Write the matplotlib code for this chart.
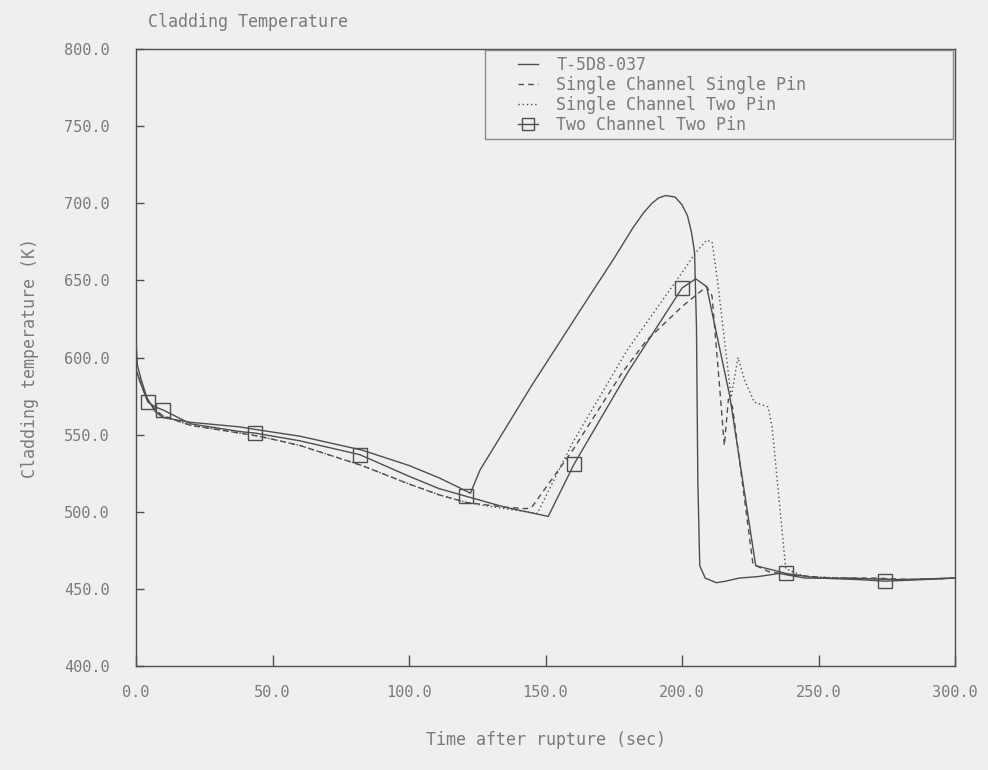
import matplotlib
matplotlib.use("Agg")
import matplotlib.pyplot as plt
from matplotlib.patches import Rectangle

# Measured cladding temperature, test T-5D8-037
t_exp = [0.0, 0.5, 2.0, 4.0, 7.0, 10.0, 20.0, 38.0, 45.0, 60.0, 82.7, 100.0, 111.0, 118.0, 122.5,
         126.0, 145.0, 162.5, 175.0, 182.0, 186.0, 189.0, 191.5, 194.0, 197.5, 200.0, 202.0, 203.5,
         204.6, 205.3, 205.8, 206.5, 208.5, 212.6, 216.0, 221.0, 228.0, 235.6, 245.0, 260.0, 280.0, 300.0]
T_exp = [611.0, 595.0, 585.0, 574.0, 565.0, 561.0, 558.0, 555.0, 553.0, 549.0, 540.0, 530.0, 522.0, 516.0, 512.0,
         527.0, 582.0, 630.0, 664.0, 684.0, 694.0, 700.0, 703.5, 705.0, 704.0, 699.0, 692.0, 681.0,
         668.0, 620.0, 520.0, 465.0, 457.0, 454.0, 455.0, 457.0, 458.0, 460.0, 457.0, 457.0, 456.0, 457.0]

# Single channel, single pin calculation
t_scsp = [0.0, 2.0, 4.0, 7.0, 10.0, 20.0, 38.0, 45.0, 60.0, 82.7, 100.0, 111.0, 121.0, 135.0, 143.0,
          145.0, 160.0, 178.0, 187.0, 200.0, 209.0, 211.0, 214.0, 215.5, 217.0, 218.5, 226.0,
          232.0, 240.0, 255.0, 270.0, 285.0, 300.0]
T_scsp = [592.0, 582.0, 573.0, 566.0, 562.0, 556.0, 551.0, 549.0, 543.0, 530.0, 518.0, 511.0, 506.0, 503.0, 502.0,
          503.0, 540.0, 590.0, 611.0, 633.0, 646.0, 640.0, 576.0, 543.0, 573.0, 568.0, 466.0,
          461.0, 459.0, 457.0, 457.0, 456.0, 457.0]

# Single channel, two pin calculation
t_sctp = [0.0, 2.0, 4.0, 7.0, 10.0, 20.0, 38.0, 45.0, 60.0, 82.7, 100.0, 111.0, 121.0, 135.0, 147.0,
          160.0, 180.0, 200.0, 205.0, 209.0, 211.0, 213.0, 218.0, 220.5, 223.0, 226.5, 231.5,
          233.0, 238.0, 245.0, 260.0, 280.0, 300.0]
T_sctp = [592.0, 582.0, 573.0, 566.0, 562.0, 556.0, 551.0, 549.0, 543.0, 530.0, 518.0, 511.0, 506.0, 502.0, 499.0,
          545.0, 605.0, 655.0, 668.0, 676.0, 675.0, 650.0, 574.0, 600.0, 585.0, 571.0, 568.0,
          555.0, 463.0, 458.0, 457.0, 456.0, 457.0]

# Two channel, two pin calculation (square markers on the points indexed by marks_tctp)
t_tctp = [0.0, 2.0, 4.4, 7.0, 9.9, 20.0, 38.0, 43.6, 60.0, 82.0, 100.0, 111.0, 121.0, 135.0, 151.0,
          160.5, 180.0, 200.0, 205.0, 209.0, 217.5, 227.0, 236.0, 238.0, 250.0, 265.0, 274.5, 288.0, 300.0]
T_tctp = [592.0, 582.0, 571.0, 568.0, 566.0, 557.0, 552.0, 551.0, 546.0, 537.0, 523.0, 515.0, 510.0, 503.0, 497.0,
          531.0, 590.0, 645.0, 651.0, 646.0, 575.0, 465.0, 461.0, 460.0, 457.0, 456.0, 455.0, 456.0, 457.0]
marks_tctp = [2, 4, 7, 9, 12, 15, 17, 23, 26]

series_labels = ["T-5D8-037", "Single Channel Single Pin", "Single Channel Two Pin", "Two Channel Two Pin"]
x_ticks = [0.0, 50.0, 100.0, 150.0, 200.0, 250.0, 300.0]
y_ticks = [400.0, 450.0, 500.0, 550.0, 600.0, 650.0, 700.0, 750.0, 800.0]

bg = "#efefef"
ink = "#4e4e4e"
txt = "#7a7a7a"
mono = ["DejaVu Sans Mono"]

W, H = 988, 770
ax_l, ax_r, ax_t, ax_b = 136, 955, 49, 666

fig = plt.figure(figsize=(W / 100, H / 100), dpi=100, facecolor=bg)
ax = fig.add_axes([ax_l / W, 1 - ax_b / H, (ax_r - ax_l) / W, (ax_b - ax_t) / H], facecolor=bg)

ax.plot(t_exp, T_exp, color=ink, lw=1.0, ls="-", label=series_labels[0])
ax.plot(t_scsp, T_scsp, color=ink, lw=1.0, ls=(0, (4, 3)), label=series_labels[1])
ax.plot(t_sctp, T_sctp, color=ink, lw=1.0, ls=(0, (1, 2)), label=series_labels[2])
ax.plot(t_tctp, T_tctp, color=ink, lw=1.0, ls="-", marker="s", markersize=10,
        markerfacecolor="none", markeredgecolor=ink, markeredgewidth=1.0,
        markevery=marks_tctp, label=series_labels[3])

ax.set_xlim(0, 300)
ax.set_ylim(400, 800)
ax.set_xticks(x_ticks)
ax.set_yticks(y_ticks)
ax.set_xticklabels([f"{v:.1f}" for v in x_ticks], family=mono, fontsize=11, color=txt)
ax.set_yticklabels([f"{v:.1f}" for v in y_ticks], family=mono, fontsize=11, color=txt)
ax.tick_params(axis="x", direction="in", length=8, width=1.0, color=ink, pad=14)
ax.tick_params(axis="y", direction="in", length=6, width=1.0, color=ink, pad=19)
for s in ax.spines.values():
    s.set_color(ink)
    s.set_linewidth(1.0)

ax.set_xlabel("Time after rupture (sec)", family=mono, fontsize=12, color=txt, labelpad=22)
ax.set_ylabel("Cladding temperature (K)", family=mono, fontsize=12, color=txt, labelpad=18)
fig.text(148 / W, 1 - 22 / H, "Cladding Temperature", family=mono, fontsize=12,
         color=txt, ha="left", va="center")

# Legend box frame, drawn separately so the entries can sit inset from its left edge
def ax_x(px):
    return (px - ax_l) / (ax_r - ax_l)

def ax_y(py):
    return (ax_b - py) / (ax_b - ax_t)

box_l, box_r, box_t, box_b = 485, 953, 50, 139
ax.add_patch(Rectangle((ax_x(box_l), ax_y(box_b)), ax_x(box_r) - ax_x(box_l), ax_y(box_t) - ax_y(box_b),
                       transform=ax.transAxes, facecolor=bg, edgecolor="#8a8a8a", lw=1.0, zorder=4))

leg = ax.legend(loc="upper left", bbox_to_anchor=(ax_x(518), ax_y(56)),
                prop={"family": mono, "size": 12}, frameon=False, borderaxespad=0.0,
                handlelength=1.2, handletextpad=1.1, labelspacing=0.12, borderpad=0.0,
                markerscale=0.8)
leg.set_zorder(5)
for text in leg.get_texts():
    text.set_color(txt)

fig.savefig("out.png", dpi=100, facecolor=bg)
